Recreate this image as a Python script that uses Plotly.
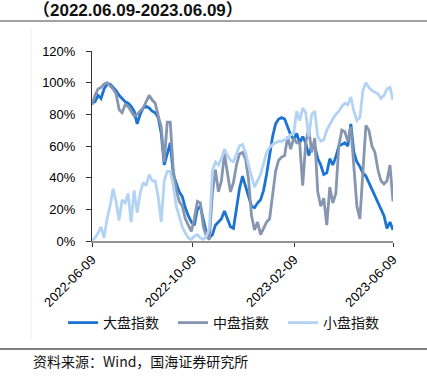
import pandas as pd
import plotly.graph_objects as go

# ---------------- data ----------------
start_date = "2022-06-09"
end_date = "2023-06-09"
n_points = 101
dates = pd.date_range(start_date, end_date, periods=n_points)

tick_dates = ["2022-06-09", "2022-10-09", "2023-02-09", "2023-06-09"]
tick_labels = ["2022-06-09", "2022-10-09", "2023-02-09", "2023-06-09"]

series_names = ["大盘指数", "中盘指数", "小盘指数"]

large_cap = [87, 88, 92, 90, 96, 99, 99, 97, 95, 92,
             90, 88, 87, 85, 82, 74, 80, 84, 85, 84,
             82, 81, 78, 68, 48, 55, 62, 42, 37, 31,
             28, 21, 16, 12, 10, 20, 22, 13, 5, 2,
             4, 10, 12, 14, 19, 14, 9, 8, 20, 33,
             41, 35, 29, 22, 21, 24, 26, 32, 42, 53,
             66, 74, 77, 78, 77, 72, 67, 64, 68, 62,
             66, 62, 54, 60, 60, 52, 48, 42, 43, 52,
             48, 53, 60, 61, 62, 60, 74, 56, 50, 47,
             43, 41, 37, 33, 28, 25, 21, 16, 8, 12,
             7]

mid_cap = [86, 92, 96, 97, 99, 100, 98, 96, 93, 83,
           81, 86, 85, 82, 79, 80, 82, 84, 88, 92,
           89, 87, 79, 72, 50, 75, 75, 45, 32, 25,
           22, 14, 10, 6, 14, 25, 24, 9, 3, 1,
           30, 45, 31, 38, 55, 42, 31, 37, 48, 55,
           56, 52, 39, 16, 7, 12, 4, 8, 12, 14,
           28, 44, 51, 53, 54, 66, 58, 65, 62, 62,
           35, 62, 71, 56, 65, 31, 22, 27, 10, 34,
           24, 30, 60, 70, 69, 63, 72, 45, 22, 14,
           42, 73, 70, 60, 56, 45, 38, 36, 38, 48,
           25]

small_cap = [0.5, 2, 5, 9, 2, 14, 22, 33, 25, 13,
             26, 24, 30, 12, 32, 18, 30, 37, 35, 42,
             38, 38, 28, 12, 38, 44, 44, 35, 22, 15,
             9, 5, 2, 1, 3, 4, 2, 1, 3, 8,
             44, 50, 48, 52, 58, 54, 51, 50, 55, 60,
             61, 56, 48, 40, 34, 38, 42, 49, 56, 59,
             61, 62, 63, 63, 64, 65, 67, 68, 82, 76,
             84, 81, 66, 80, 82, 66, 63, 64, 70, 74,
             77, 80, 82, 85, 87, 86, 91, 82, 76, 78,
             95, 100, 97, 95, 94, 93, 90, 92, 96, 97,
             89]

colors = ["#1b74d3", "#8696b0", "#b3d3f5"]

# ---------------- geometry helpers (pixel -> paper) ----------------
W, H = 427, 377
L, R, T, B = 92, 34, 51, 136
PW, PH = W - L - R, H - T - B


def px(x):
    return (x - L) / PW


def py(y):
    return (H - B - y) / PH


FONT = "Liberation Sans, Arial, Noto Sans CJK SC, sans-serif"
CJK = "Noto Sans CJK SC, Liberation Sans, sans-serif"

fig = go.Figure()
for name, vals, c in zip(series_names, [large_cap, mid_cap, small_cap], colors):
    fig.add_trace(go.Scatter(x=dates, y=vals, mode="lines", name=name,
                             line=dict(color=c, width=2.8)))

fig.update_layout(
    width=W, height=H, autosize=False,
    margin=dict(l=L, r=R, t=T, b=B, pad=0),
    paper_bgcolor="white", plot_bgcolor="white",
    font=dict(family=FONT, size=13, color="#000"),
    showlegend=True,
    legend=dict(orientation="h", x=px(63), y=py(323), xanchor="left", yanchor="middle",
                font=dict(family=CJK, size=14, color="#111"),
                entrywidth=65, entrywidthmode="pixels",
                bgcolor="rgba(0,0,0,0)", borderwidth=0, itemwidth=30,
                tracegroupgap=0),
)

fig.update_xaxes(type="date", range=[start_date, end_date],
                 tickvals=tick_dates, ticktext=tick_labels, tickangle=-45,
                 showline=True, linecolor="#939393", linewidth=2,
                 ticks="outside", ticklen=4, tickcolor="#333", tickwidth=1,
                 showgrid=False, zeroline=False,
                 tickfont=dict(family=FONT, size=13, color="#000"))
fig.update_yaxes(range=[0, 120], dtick=20, ticksuffix="%",
                 showline=True, linecolor="#333", linewidth=1,
                 ticks="outside", ticklen=5, tickcolor="#333",
                 ticklabelstandoff=8,
                 showgrid=False, zeroline=False,
                 tickfont=dict(family=FONT, size=13, color="#000"))

# title
fig.add_annotation(text="<b>（2022.06.09-2023.06.09）</b>", xref="paper", yref="paper",
                   x=px(31), y=py(10), xanchor="left", yanchor="middle", showarrow=False,
                   font=dict(family=FONT, size=17, color="#111"))
# source
fig.add_annotation(text="资料来源：Wind，国海证券研究所", xref="paper", yref="paper",
                   x=px(31), y=py(361), xanchor="left", yanchor="middle", showarrow=False,
                   font=dict(family=CJK, size=14, color="#111"))

# separator lines
fig.add_shape(type="line", xref="paper", yref="paper", x0=px(0), x1=px(W), y0=py(21), y1=py(21),
              line=dict(color="#444", width=1))
fig.add_shape(type="line", xref="paper", yref="paper", x0=px(0), x1=px(W), y0=py(349), y1=py(349),
              line=dict(color="#555", width=1.5))
# faint frame edge
fig.add_shape(type="line", xref="paper", yref="paper", x0=px(31), x1=px(31), y0=py(28), y1=py(340),
              line=dict(color="#eeeeee", width=1))

fig.write_html("out.html", config={"displayModeBar": False},
               post_script="document.body.style.margin='0';")
